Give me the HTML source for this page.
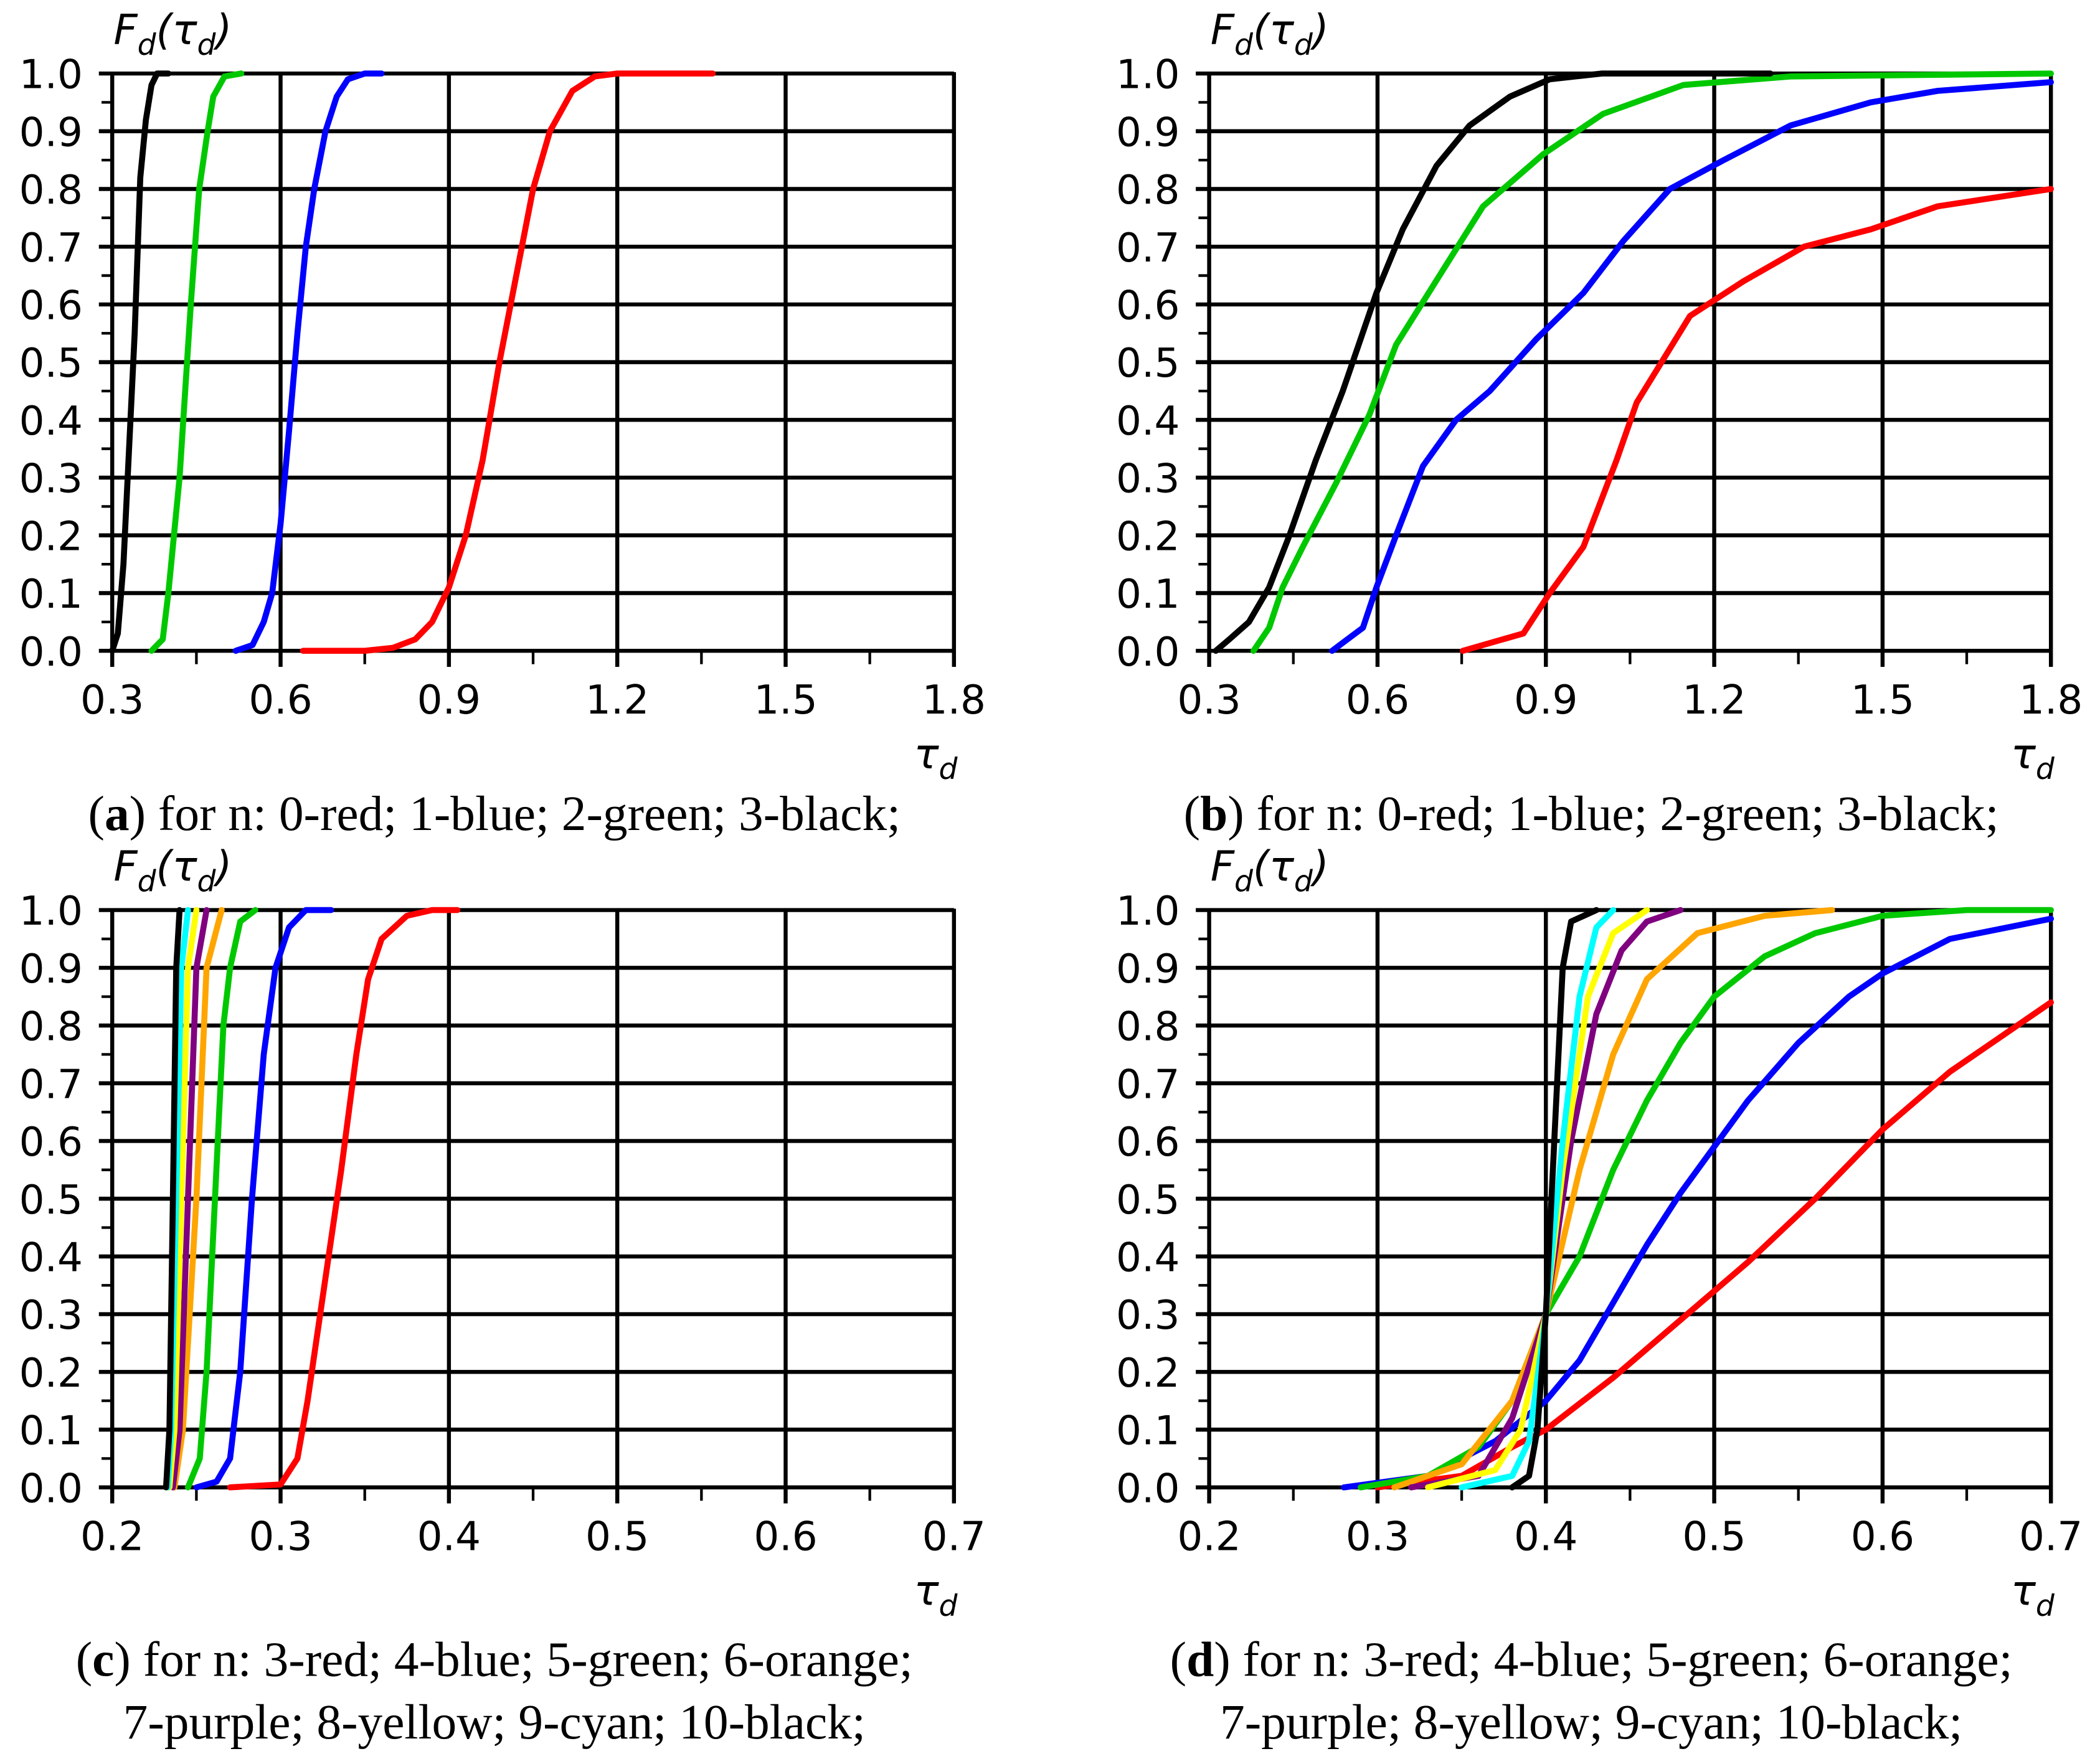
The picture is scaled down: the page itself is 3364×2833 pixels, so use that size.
<!DOCTYPE html>
<html><head><meta charset="utf-8">
<style>
html,body{margin:0;padding:0;background:#fff;}
svg{display:block;}
.tk{font-family:"DejaVu Sans","Liberation Sans",sans-serif;font-size:30px;fill:#000;}
.it{font-family:"DejaVu Sans","Liberation Sans",sans-serif;font-style:italic;font-size:31px;fill:#000;}
.cap{font-family:"Liberation Serif",serif;font-size:37px;fill:#000;}
</style></head>
<body>
<svg id="fig" xmlns="http://www.w3.org/2000/svg" width="3364" height="2833" viewBox="0 0 1568 1320" preserveAspectRatio="none">
<rect width="1568" height="1320" fill="#fff"/>
</svg>
<script>
// ---- data ----
const aTicks = ["0.3","0.6","0.9","1.2","1.5","1.8"];
const cTicks = ["0.2","0.3","0.4","0.5","0.6","0.7"];
const yTicks = ["0.0","0.1","0.2","0.3","0.4","0.5","0.6","0.7","0.8","0.9","1.0"];

const aRedX = [0.64,0.75,0.80,0.84,0.87,0.90,0.93,0.96,0.99,1.02,1.05,1.08,1.12,1.16,1.20,1.37];
const aRedY = [0,0,0.005,0.02,0.05,0.11,0.2,0.33,0.5,0.65,0.8,0.9,0.97,0.995,1,1];
const aBlueX = [0.52,0.55,0.57,0.585,0.60,0.615,0.63,0.645,0.66,0.68,0.70,0.72,0.75,0.78];
const aBlueY = [0,0.01,0.05,0.1,0.22,0.38,0.55,0.7,0.8,0.9,0.96,0.99,1,1];
const aGreenX = [0.37,0.39,0.40,0.42,0.43,0.44,0.455,0.47,0.48,0.50,0.53];
const aGreenY = [0,0.02,0.1,0.3,0.45,0.6,0.8,0.9,0.96,0.995,1];
const aBlackX = [0.30,0.31,0.32,0.33,0.34,0.35,0.36,0.37,0.38,0.40];
const aBlackY = [0,0.03,0.15,0.35,0.55,0.82,0.92,0.98,1,1];

const bRedX = [0.752,0.86,0.907,0.967,1.026,1.062,1.157,1.252,1.36,1.479,1.598,1.8];
const bRedY = [0,0.03,0.1,0.18,0.33,0.43,0.58,0.64,0.7,0.73,0.77,0.8];
const bBlueX = [0.519,0.574,0.598,0.633,0.681,0.74,0.8,0.883,0.967,1.038,1.121,1.217,1.336,1.479,1.598,1.8];
const bBlueY = [0,0.04,0.11,0.2,0.32,0.4,0.45,0.54,0.62,0.71,0.8,0.85,0.91,0.95,0.97,0.985];
const bGreenX = [0.379,0.407,0.431,0.467,0.526,0.586,0.633,0.717,0.788,0.895,1.002,1.145,1.336,1.8];
const bGreenY = [0,0.04,0.11,0.18,0.29,0.41,0.53,0.66,0.77,0.86,0.93,0.98,0.995,1];
const bBlackX = [0.312,0.336,0.371,0.407,0.443,0.49,0.538,0.598,0.645,0.705,0.764,0.836,0.907,1.0,1.3];
const bBlackY = [0,0.02,0.05,0.11,0.2,0.33,0.45,0.62,0.73,0.84,0.91,0.96,0.99,1,1];

const cRedX = [0.27,0.30,0.31,0.316,0.326,0.336,0.345,0.352,0.36,0.375,0.39,0.405];
const cRedY = [0,0.005,0.05,0.15,0.35,0.55,0.75,0.88,0.95,0.99,1,1];
const cBlueX = [0.25,0.262,0.27,0.276,0.283,0.29,0.297,0.305,0.315,0.33];
const cBlueY = [0,0.01,0.05,0.2,0.5,0.75,0.9,0.97,1,1];
const cGreenX = [0.245,0.252,0.256,0.261,0.266,0.27,0.276,0.285];
const cGreenY = [0,0.05,0.2,0.5,0.8,0.9,0.98,1];
const cOrangeX = [0.237,0.242,0.25,0.256,0.265];
const cOrangeY = [0,0.1,0.5,0.9,1];
const cPurpleX = [0.236,0.240,0.245,0.250,0.256];
const cPurpleY = [0,0.1,0.5,0.9,1];
const cYellowX = [0.234,0.237,0.241,0.245,0.25];
const cYellowY = [0,0.1,0.5,0.9,1];
const cCyanX = [0.233,0.235,0.238,0.241,0.245];
const cCyanY = [0,0.1,0.5,0.9,1];
const cBlackX = [0.232,0.234,0.236,0.238,0.240];
const cBlackY = [0,0.1,0.5,0.9,1];

const dRedX = [0.30,0.35,0.38,0.40,0.44,0.48,0.52,0.56,0.60,0.64,0.68,0.70];
const dRedY = [0,0.02,0.07,0.1,0.19,0.29,0.39,0.5,0.62,0.72,0.8,0.84];
const dBlueX = [0.28,0.33,0.37,0.40,0.42,0.44,0.46,0.48,0.50,0.52,0.55,0.58,0.60,0.64,0.70];
const dBlueY = [0,0.02,0.08,0.15,0.22,0.32,0.42,0.51,0.59,0.67,0.77,0.85,0.89,0.95,0.985];
const dGreenX = [0.29,0.33,0.36,0.38,0.40,0.42,0.44,0.46,0.48,0.50,0.53,0.56,0.60,0.65,0.70];
const dGreenY = [0,0.02,0.07,0.15,0.3,0.4,0.55,0.67,0.77,0.85,0.92,0.96,0.99,1,1];
const dOrangeX = [0.31,0.35,0.38,0.40,0.42,0.44,0.46,0.49,0.53,0.57];
const dOrangeY = [0,0.04,0.15,0.3,0.55,0.75,0.88,0.96,0.99,1];
const dPurpleX = [0.32,0.36,0.38,0.40,0.415,0.43,0.445,0.46,0.48];
const dPurpleY = [0,0.02,0.12,0.3,0.6,0.82,0.93,0.98,1];
const dYellowX = [0.33,0.37,0.385,0.40,0.41,0.425,0.44,0.46];
const dYellowY = [0,0.03,0.1,0.3,0.55,0.85,0.96,1];
const dCyanX = [0.35,0.38,0.39,0.40,0.41,0.42,0.43,0.44];
const dCyanY = [0,0.02,0.08,0.3,0.6,0.85,0.97,1];
const dBlackX = [0.38,0.39,0.395,0.40,0.405,0.41,0.415,0.43];
const dBlackY = [0,0.02,0.1,0.3,0.6,0.9,0.98,1];

const NS = "http://www.w3.org/2000/svg";
const svg = document.getElementById('fig');
function mk(tag, attrs, parent){const e=document.createElementNS(NS,tag);for(const k in attrs)e.setAttribute(k,attrs[k]);(parent||svg).appendChild(e);return e;}

const panels = [
 {id:'a', x0:84, x1:714, y0:487, y1:55, xmin:0.3, xmax:1.8, ticks:aTicks,
  series:[['red',aRedX,aRedY,'#ff0000'],['blue',aBlueX,aBlueY,'#0000ff'],['green',aGreenX,aGreenY,'#00c800'],['black',aBlackX,aBlackY,'#000']],
  cap:['(a) for n: 0-red; 1-blue; 2-green; 3-black;'], capX:370, capY:621},
 {id:'b', x0:905, x1:1535, y0:487, y1:55, xmin:0.3, xmax:1.8, ticks:aTicks,
  series:[['red',bRedX,bRedY,'#ff0000'],['blue',bBlueX,bBlueY,'#0000ff'],['green',bGreenX,bGreenY,'#00c800'],['black',bBlackX,bBlackY,'#000']],
  cap:['(b) for n: 0-red; 1-blue; 2-green; 3-black;'], capX:1191, capY:621},
 {id:'c', x0:84, x1:714, y0:1113, y1:681, xmin:0.2, xmax:0.7, ticks:cTicks,
  series:[['red',cRedX,cRedY,'#ff0000'],['blue',cBlueX,cBlueY,'#0000ff'],['green',cGreenX,cGreenY,'#00c800'],['orange',cOrangeX,cOrangeY,'#ffa500'],['purple',cPurpleX,cPurpleY,'#800080'],['yellow',cYellowX,cYellowY,'#ffff00'],['cyan',cCyanX,cCyanY,'#00ffff'],['black',cBlackX,cBlackY,'#000']],
  cap:['(c) for n: 3-red; 4-blue; 5-green; 6-orange;','7-purple; 8-yellow; 9-cyan; 10-black;'], capX:370, capY:1254},
 {id:'d', x0:905, x1:1535, y0:1113, y1:681, xmin:0.2, xmax:0.7, ticks:cTicks,
  series:[['red',dRedX,dRedY,'#ff0000'],['blue',dBlueX,dBlueY,'#0000ff'],['green',dGreenX,dGreenY,'#00c800'],['orange',dOrangeX,dOrangeY,'#ffa500'],['purple',dPurpleX,dPurpleY,'#800080'],['yellow',dYellowX,dYellowY,'#ffff00'],['cyan',dCyanX,dCyanY,'#00ffff'],['black',dBlackX,dBlackY,'#000']],
  cap:['(d) for n: 3-red; 4-blue; 5-green; 6-orange;','7-purple; 8-yellow; 9-cyan; 10-black;'], capX:1191, capY:1254}
];

panels.forEach(p=>{
  const g = mk('g',{});
  
  
  const sx = v => p.x0 + (v-p.xmin)/(p.xmax-p.xmin)*(p.x1-p.x0);
  const sy = v => p.y0 + v*(p.y1-p.y0);
  const nT = p.ticks.length;
  const step = (p.xmax-p.xmin)/(nT-1);
  yTicks.forEach((t,i)=>{
    const v = i/10, y = sy(v);
    const l = mk('line',{x1:p.x0-10,x2:p.x1,y1:y,y2:y,stroke:'#000','stroke-width':3},g);
    
    
    const tx = mk('text',{x:p.x0-22,y:y+11,'text-anchor':'end',class:'tk'},g);
    tx.textContent = t;
    
    
    if(i<10){const ym=sy(v+0.05);mk('line',{x1:p.x0-8,x2:p.x0,y1:ym,y2:ym,stroke:'#000','stroke-width':2},g);}
  });
  p.ticks.forEach((t,i)=>{
    const v = p.xmin+i*step, x = sx(v);
    const l = mk('line',{x1:x,x2:x,y1:p.y1-1,y2:p.y0+12,stroke:'#000','stroke-width':3},g);
    
    
    const tx = mk('text',{x:x,y:p.y0+47,'text-anchor':'middle',class:'tk'},g);
    tx.textContent = t;
    
    
    if(i<nT-1){const xm=sx(v+step/2);mk('line',{x1:xm,x2:xm,y1:p.y0,y2:p.y0+10,stroke:'#000','stroke-width':2},g);}
  });
  p.series.forEach(s=>{
    const pts = s[1].map((xv,k)=>sx(xv).toFixed(1)+','+sy(s[2][k]).toFixed(1)).join(' ');
    const pl = mk('polyline',{points:pts,fill:'none',stroke:s[3],'stroke-width':4.5,'stroke-linejoin':'round','stroke-linecap':'round'},g);
    
    
  });
  const yl = mk('text',{x:p.x0+1,y:p.y1-22,class:'it'},g);
  yl.innerHTML = 'F<tspan font-size="22" dy="8">d</tspan><tspan dy="-8">(τ</tspan><tspan font-size="22" dy="8">d</tspan><tspan dy="-8">)</tspan>';
  
  
  const xl = mk('text',{x:p.x1-30,y:p.y0+88,class:'it'},g);
  xl.innerHTML = 'τ<tspan font-size="22" dy="8">d</tspan>';
  
  
  p.cap.forEach((c,k)=>{
    const ct = mk('text',{x:p.capX,y:p.capY+k*47,'text-anchor':'middle',class:'cap'},g);
    if(k===0){ct.innerHTML='(<tspan font-weight="bold">'+p.id+'</tspan>'+c.slice(2);}
    else ct.textContent=c;
    
    
  });
});
</script>
</body></html>
